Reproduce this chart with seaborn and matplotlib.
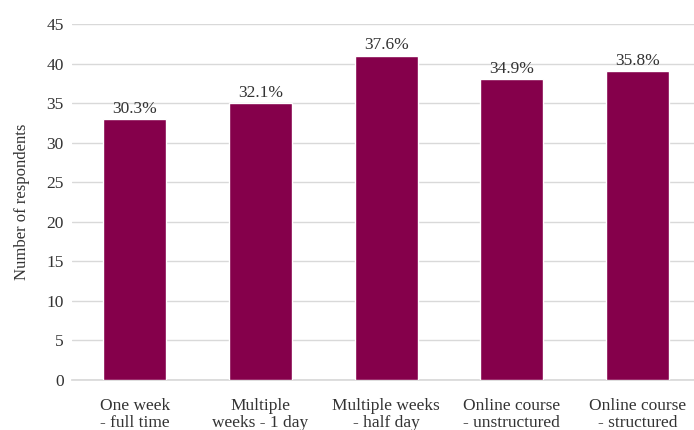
import matplotlib
matplotlib.use("Agg")
import matplotlib.pyplot as plt
import seaborn as sns
import pandas as pd

categories = ["One week\n- full time", "Multiple\nweeks - 1 day", "Multiple weeks\n- half day",
              "Online course\n- unstructured", "Online course\n- structured"]
respondents = [33, 35, 41, 38, 39]
percent_labels = ["30.3%", "32.1%", "37.6%", "34.9%", "35.8%"]

sns.set_theme(style="white")
plt.rcParams["font.family"] = ["Liberation Serif", "DejaVu Serif"]

df = pd.DataFrame({"category": categories, "respondents": respondents})

fig = plt.figure(figsize=(6.94, 4.30), dpi=100)
ax = fig.add_axes([72 / 694, 1 - 380 / 430, (694 - 72) / 694, (380 - 24) / 430])

sns.barplot(data=df, x="category", y="respondents", color="#85004b", saturation=1,
            width=0.5, ax=ax, zorder=3)

for p, lab in zip(ax.patches, percent_labels):
    ax.text(p.get_x() + p.get_width() / 2, p.get_height() + 0.3, lab,
            ha="center", va="bottom", fontsize=12.5, color="#333333")

ax.set_ylim(0, 45)
ax.set_xlim(-0.5, 4.45)
ax.set_yticks(range(0, 46, 5))
ax.yaxis.grid(True, color="#d9d9d9", linewidth=1, zorder=0)
ax.set_axisbelow(True)
for s in ["top", "right", "left"]:
    ax.spines[s].set_visible(False)
ax.spines["bottom"].set_color("#d9d9d9")
ax.tick_params(axis="both", length=0, labelsize=12.5, colors="#333333", pad=6)
ax.tick_params(axis="x", pad=13)
for t in ax.get_xticklabels():
    t.set_linespacing(1.1)
ax.set_xlabel("")
ax.set_ylabel("Number of respondents", fontsize=12, color="#333333", labelpad=12)

fig.savefig("out.png", dpi=100)
